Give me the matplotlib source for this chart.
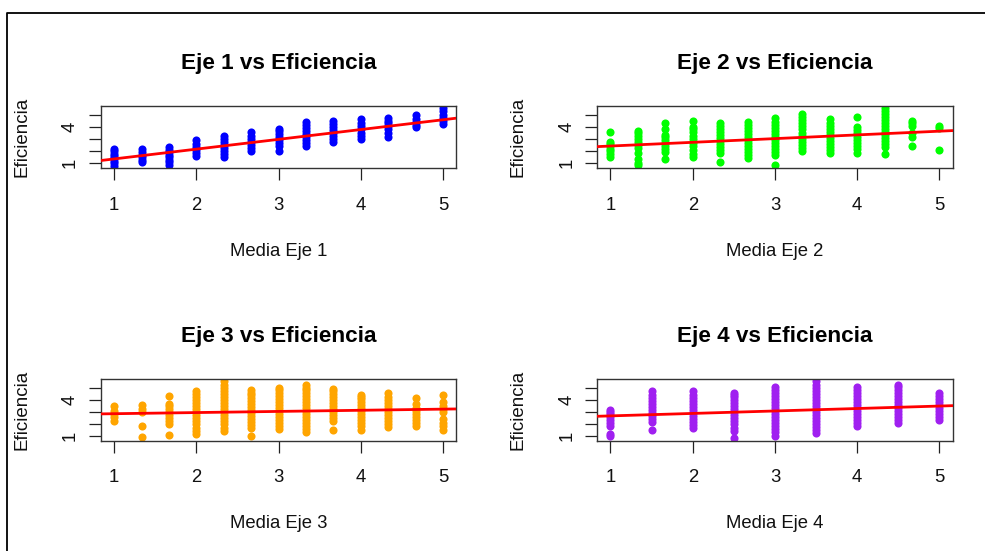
import numpy as np
import matplotlib.pyplot as plt

plt.rcParams['font.family'] = ['Liberation Sans', 'DejaVu Sans']

# valores (columnas de puntos por cada media)
tercios = [1, 4/3, 5/3, 2, 7/3, 8/3, 3, 10/3, 11/3, 4, 13/3, 14/3, 5]
medios = [1, 1.5, 2, 2.5, 3, 3.5, 4, 4.5, 5]

eje1_x = tercios
eje1_y = [
    [0.8, 1.0, 1.2, 1.4, 1.6, 1.8, 2.0, 2.16],
    [1.08, 1.3, 1.5, 1.7, 1.9, 2.16],
    [0.86, 1.1, 1.3, 1.5, 1.7, 1.9, 2.1, 2.37],
    [1.6, 1.85, 2.1, 2.35, 2.6, 2.93],
    [1.5, 1.75, 2.0, 2.25, 2.5, 2.75, 3.0, 3.29],
    [2.02, 2.3, 2.55, 2.8, 3.05, 3.3, 3.57],
    [2.02, 2.4, 2.65, 2.9, 3.15, 3.4, 3.65, 3.87],
    [2.46, 2.7, 2.95, 3.2, 3.45, 3.7, 3.95, 4.2, 4.45],
    [2.74, 3.0, 3.25, 3.5, 3.75, 4.0, 4.25, 4.53],
    [3.04, 3.3, 3.55, 3.8, 4.05, 4.3, 4.64],
    [3.2, 3.55, 3.8, 4.05, 4.3, 4.5, 4.72],
    [3.98, 4.2, 4.45, 4.7, 5.0],
    [4.25, 4.5, 4.75, 5.0, 5.3, 5.56],
]

eje2_x = tercios
eje2_y = [
    [1.5, 1.75, 2.0, 2.2, 2.4, 2.6, 2.79, 3.62],
    [0.85, 1.0, 1.33, 1.83, 2.24, 2.5, 2.75, 3.0, 3.25, 3.5, 3.7],
    [1.33, 1.96, 2.2, 2.45, 2.7, 2.95, 3.15, 3.34, 3.81, 4.36],
    [1.55, 1.8, 2.1, 2.4, 2.7, 3.0, 3.3, 3.6, 3.85, 4.04, 4.53],
    [1.1, 1.83, 2.1, 2.35, 2.6, 2.85, 3.1, 3.35, 3.6, 3.85, 4.1, 4.31],
    [1.41, 1.7, 1.95, 2.2, 2.45, 2.7, 2.95, 3.2, 3.45, 3.7, 3.95, 4.2, 4.45],
    [0.86, 1.69, 1.95, 2.2, 2.45, 2.7, 2.95, 3.2, 3.45, 3.7, 3.95, 4.2, 4.45, 4.72],
    [2.04, 2.3, 2.55, 2.8, 3.05, 3.3, 3.55, 3.8, 4.05, 4.3, 4.55, 4.8, 5.08],
    [1.83, 2.1, 2.35, 2.6, 2.85, 3.1, 3.35, 3.6, 3.85, 4.1, 4.35, 4.64],
    [1.88, 2.15, 2.4, 2.65, 2.9, 3.15, 3.54, 3.76, 3.98, 4.86],
    [1.77, 2.37, 2.6, 2.85, 3.1, 3.35, 3.6, 3.85, 4.1, 4.35, 4.6, 4.85, 5.1, 5.35, 5.56],
    [2.43, 3.15, 3.48, 4.09, 4.3, 4.53],
    [2.1, 3.9, 4.05],
]

eje3_x = tercios
eje3_y = [
    [2.28, 2.55, 2.83, 3.1, 3.47],
    [0.89, 1.8, 2.97, 3.25, 3.53],
    [1.11, 2.0, 2.25, 2.5, 2.75, 3.0, 3.25, 3.5, 3.64, 4.28],
    [1.17, 1.45, 1.7, 1.95, 2.2, 2.45, 2.7, 2.95, 3.2, 3.45, 3.7, 3.95, 4.2, 4.45, 4.69],
    [1.44, 1.7, 1.95, 2.2, 2.45, 2.7, 2.95, 3.2, 3.45, 3.7, 3.95, 4.2, 4.45, 4.7, 4.95, 5.2, 5.56],
    [0.97, 1.64, 1.9, 2.15, 2.4, 2.65, 2.9, 3.15, 3.4, 3.65, 3.9, 4.15, 4.4, 4.6, 4.78],
    [1.58, 1.85, 2.1, 2.35, 2.6, 2.85, 3.1, 3.35, 3.6, 3.85, 4.1, 4.35, 4.6, 4.8, 4.97],
    [1.3, 1.55, 1.8, 2.05, 2.3, 2.55, 2.8, 3.05, 3.3, 3.55, 3.8, 4.05, 4.3, 4.55, 4.8, 5.0, 5.19],
    [1.5, 2.28, 2.5, 2.75, 3.0, 3.25, 3.5, 3.75, 4.0, 4.25, 4.5, 4.7, 4.92],
    [1.53, 1.8, 2.05, 2.3, 2.55, 2.8, 3.05, 3.3, 3.55, 3.8, 4.05, 4.25, 4.42],
    [1.72, 2.0, 2.25, 2.5, 2.75, 3.0, 3.25, 3.5, 3.75, 4.0, 4.25, 4.58],
    [1.86, 2.1, 2.35, 2.6, 2.85, 3.1, 3.35, 3.64, 4.14],
    [1.53, 1.8, 2.1, 2.42, 2.97, 3.25, 3.5, 3.78, 4.42],
]

eje4_x = medios
eje4_y = [
    [0.97, 1.17, 1.8, 2.05, 2.3, 2.55, 2.8, 3.0, 3.19],
    [1.53, 2.14, 2.4, 2.65, 2.9, 3.15, 3.4, 3.65, 3.9, 4.15, 4.4, 4.69],
    [1.64, 1.9, 2.15, 2.4, 2.65, 2.9, 3.15, 3.4, 3.65, 3.9, 4.15, 4.4, 4.69],
    [0.83, 1.44, 1.7, 1.95, 2.2, 2.45, 2.7, 2.95, 3.2, 3.45, 3.7, 3.95, 4.2, 4.4, 4.58],
    [1.03, 1.3, 1.55, 1.8, 2.05, 2.3, 2.55, 2.8, 3.05, 3.3, 3.55, 3.8, 4.05, 4.3, 4.55, 4.8, 5.06],
    [1.25, 1.5, 1.75, 2.0, 2.25, 2.5, 2.75, 3.0, 3.25, 3.5, 3.75, 4.0, 4.25, 4.5, 4.75, 5.0, 5.25, 5.56],
    [1.8, 2.05, 2.3, 2.55, 2.8, 3.05, 3.3, 3.55, 3.8, 4.05, 4.3, 4.55, 4.8, 5.06],
    [2.08, 2.3, 2.55, 2.8, 3.05, 3.3, 3.55, 3.8, 4.05, 4.3, 4.55, 4.8, 5.05, 5.25],
    [2.36, 2.6, 2.85, 3.1, 3.35, 3.6, 3.85, 4.1, 4.35, 4.58],
]

# recta de regresion (intercepto, pendiente)
fit1 = (0.545, 0.813)
fit2 = (2.12, 0.308)
fit3 = (2.75, 0.095)
fit4 = (2.46, 0.204)

titulos = ["Eje 1 vs Eficiencia", "Eje 2 vs Eficiencia", "Eje 3 vs Eficiencia", "Eje 4 vs Eficiencia"]
xlabels = ["Media Eje 1", "Media Eje 2", "Media Eje 3", "Media Eje 4"]
colores = ["#0000FF", "#00FF00", "#FFA500", "#A020F0"]

W, H = 985, 551
fig = plt.figure(figsize=(W / 100, H / 100), dpi=100)

# posiciones de las cajas en pixeles (izq, arriba)
cajas = [(101, 106), (597.3, 106), (101, 378.7), (597.3, 378.7)]
bw, bh = 355.3, 62.3

datos = [(eje1_x, eje1_y, fit1), (eje2_x, eje2_y, fit2),
         (eje3_x, eje3_y, fit3), (eje4_x, eje4_y, fit4)]

for i, (xv, yv, fit) in enumerate(datos):
    l, t = cajas[i]
    ax = fig.add_axes([l / W, 1 - (t + bh) / H, bw / W, bh / H])
    xs = np.repeat(xv, [len(c) for c in yv])
    ys = np.concatenate(yv)
    ax.scatter(xs, ys, s=34, c=colores[i], linewidths=0, zorder=2)
    ax.axline((0, fit[0]), slope=fit[1], color="red", lw=2, zorder=3)

    ax.set_xlim(0.84, 5.16)
    ax.set_ylim(0.58, 5.75)
    ax.set_xticks([1, 2, 3, 4, 5])
    ax.set_yticks([1, 2, 3, 4, 5])
    ax.set_yticklabels(["1", "", "", "4", ""], rotation=90, va="center")
    ax.tick_params(axis="both", length=8.6, width=0.9, color="#222222",
                   labelsize=13.3, labelcolor="#111111")
    ax.tick_params(axis="x", pad=11.8)
    ax.tick_params(axis="y", pad=7.3)
    for sp in ax.spines.values():
        sp.set_color("#333333")
        sp.set_linewidth(1.0)

    ax.set_title(titulos[i], fontsize=16.2, fontweight="bold", pad=0, y=1.594)
    ax.set_xlabel(xlabels[i], fontsize=13.3, color="#111111", va="top")
    ax.xaxis.set_label_coords(0.5, -1.194)
    ax.set_ylabel("Eficiencia", fontsize=13.5, color="#111111", va="center")
    ax.yaxis.set_label_coords(-79.3 / bw, 0.5)

# marco de la captura (arriba e izquierda)
fig.add_artist(plt.Line2D([1, 7 / W, 7 / W], [1 - 13 / H, 1 - 13 / H, 0],
                          transform=fig.transFigure, color="black", lw=1.3))

fig.savefig("out.png", dpi=100)
